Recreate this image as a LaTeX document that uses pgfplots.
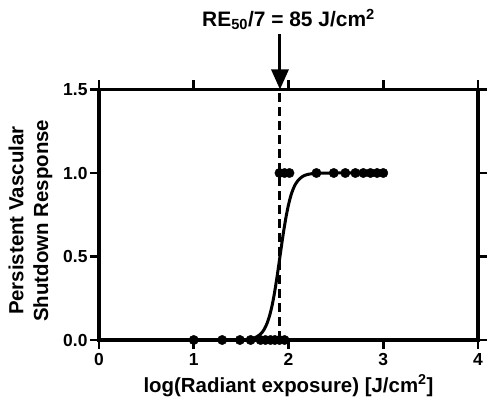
\documentclass[border=0pt]{standalone}
\usepackage{fontspec}
\setmainfont{Liberation Sans}
\usepackage{pgfplots}
\pgfplotsset{compat=1.18}
\usetikzlibrary{arrows.meta}

\begin{document}
\begin{tikzpicture}
\begin{axis}[
name=ax,
scale only axis,
width=379bp, height=250.5bp,
xmin=0, xmax=4,
ymin=0, ymax=1.5,
xtick={0,1,2,3,4},
ytick={0,0.5,1,1.5},
yticklabel style={xshift=1bp, /pgf/number format/.cd,fixed,fixed zerofill,precision=1},
/pgf/number format/assume math mode=true,
tick align=outside,
major tick length=9bp,
tick style={line width=2.8bp, black},
axis line style={line width=3.3bp},
ticklabel style={font=\bfseries\fontsize{17.5}{17.5}\selectfont},
xticklabel style={yshift=-1bp},
xlabel={log(Radiant exposure) [J/cm\textsuperscript{2}]},
ylabel={Persistent Vascular\\Shutdown Response},
label style={font=\bfseries\fontsize{20.5}{25}\selectfont},
xlabel style={yshift=-2bp},
ylabel style={align=center, xshift=-6bp, yshift=4bp},
clip=false,
]

% fitted dose-response curve
\addplot[black, line width=3bp, smooth] coordinates {
(1.0,0)(1.3,0)(1.4,0.0003)(1.5,0.0013)(1.55,0.003)(1.6,0.0067)(1.65,0.0149)
(1.7,0.0328)(1.725,0.0483)(1.75,0.0705)(1.775,0.102)(1.8,0.145)(1.825,0.202)
(1.85,0.275)(1.875,0.363)(1.9,0.46)(1.925,0.56)(1.95,0.656)(1.975,0.74)
(2.0,0.81)(2.025,0.8645)(2.05,0.905)(2.075,0.9346)(2.1,0.955)(2.15,0.98)
(2.2,0.991)(2.25,0.996)(2.3,0.998)(2.4,0.9996)(2.5,1)(3.0,1)
};

% observations
\addplot[only marks, mark=*, mark size=4.7bp, black] coordinates {
(1.0,0)(1.3,0)(1.487,0)(1.6,0)(1.705,0)(1.757,0)(1.81,0)(1.856,0)(1.905,0)(1.958,0)
(1.905,1)(1.958,1)(2.01,1)(2.295,1)(2.478,1)(2.6,1)(2.706,1)(2.79,1)(2.865,1)(2.935,1)(3.0,1)
};

% RE50/7 marker
\draw[black, line width=3bp, dash pattern=on 9bp off 5bp] (axis cs:1.91,0) -- (axis cs:1.91,1.5);
\draw[black, line width=3bp, -{Triangle[length=20bp,width=17bp]}]
  ([yshift=55bp]axis cs:1.91,1.5) -- (axis cs:1.91,1.5);
\node[font=\bfseries\fontsize{21}{21}\selectfont] at ([yshift=70bp]axis cs:2.0,1.5)
  {RE\textsubscript{50}/7 = 85 J/cm\textsuperscript{2}};

\end{axis}
\pgfresetboundingbox
\path[use as bounding box] ([xshift=-99bp,yshift=-62bp]ax.south west) rectangle ([xshift=10bp,yshift=89.5bp]ax.north east);
\end{tikzpicture}
\end{document}
